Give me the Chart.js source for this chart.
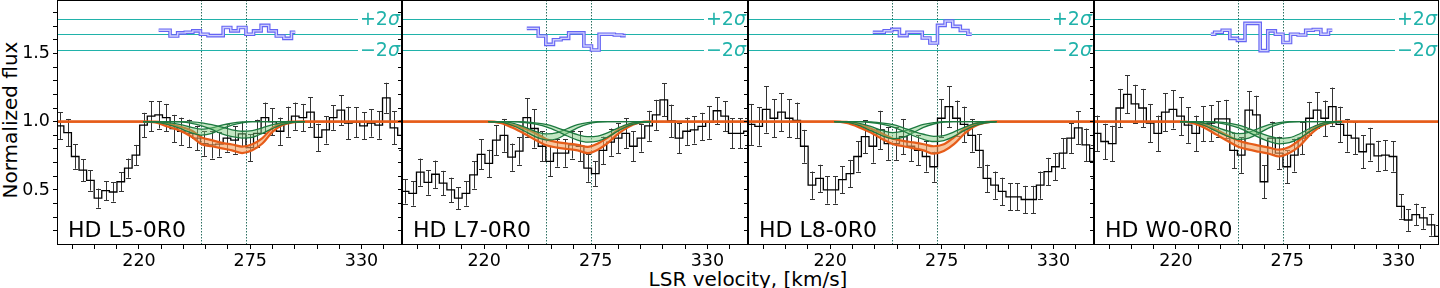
<!DOCTYPE html>
<html>
<head>
<meta charset="utf-8">
<script src="https://cdn.jsdelivr.net/npm/chart.js@4.4.1/dist/chart.umd.min.js"></script>
<style>
  body { margin: 0; width: 1440px; height: 288px; overflow: hidden; background: #fff; position: relative; font-family: "DejaVu Sans", sans-serif; }
  canvas { position: absolute; top: 0; }
  #ylab { position: absolute; left: 9.5px; top: 120px; transform: translate(-50%, -50%) rotate(-90deg); font-size: 20px; line-height: 20px; white-space: nowrap; }
  #xlab { position: absolute; left: 748px; top: 269px; transform: translateX(-50%); font-size: 20px; line-height: 20px; white-space: nowrap; }
</style>
</head>
<body>
<div id="ylab">Normalized flux</div>
<div id="xlab">LSR velocity, [km/s]</div>
<script>
// ---- data ----
const panelNames = ["HD L5-0R0", "HD L7-0R0", "HD L8-0R0", "HD W0-0R0"];

const xTicks = [187, 198, 209, 220, 231, 242, 253, 264, 275, 286, 297, 308, 319, 330, 341];
const xLabelTicks = [220, 275, 330];
const yTicks = [0.2, 0.3, 0.4, 0.5, 0.6, 0.7, 0.8, 0.9, 1.0, 1.1, 1.2, 1.3, 1.4, 1.5, 1.6, 1.7, 1.8];
const yLabelTicks = [0.5, 1.0, 1.5];
const sigmaLevels = [1.526, 1.639, 1.751];   // -2 sigma, centre, +2 sigma
const compVelocity = [250.5, 272.7];

// spectrum bins (km/s)
const velocity = [177.25, 181, 184.75, 188.5, 192.25, 196, 199.75, 203.5, 207.25, 211,
  214.75, 218.5, 222.25, 226, 229.75, 233.5, 237.25, 241, 244.75, 248.5,
  252.25, 256, 259.75, 263.5, 267.25, 271, 274.75, 278.5, 282.25, 286,
  289.75, 293.5, 297.25, 301, 304.75, 308.5, 312.25, 316, 319.75, 323.5,
  327.25, 331, 334.75, 338.5, 342.25, 346, 349.75];

const fluxL5 = [0.99, 0.97, 0.92, 0.745, 0.645, 0.57, 0.44, 0.495, 0.485, 0.56,
  0.66, 0.755, 0.975, 1.04, 1.05, 1.03, 0.95, 0.93, 0.915, 0.88,
  0.84, 0.83, 0.835, 0.88, 0.865, 0.91, 0.81, 0.915, 1.03, 1.0,
  0.93, 1.0, 1.04, 1.03, 1.07, 0.885, 0.94, 1.03, 1.085, 0.99,
  0.995, 0.97, 0.99, 0.975, 1.175, 0.955, 0.90];
const errL5 = [0.10, 0.10, 0.10, 0.09, 0.08, 0.075, 0.07, 0.07, 0.07, 0.07,
  0.07, 0.075, 0.09, 0.11, 0.10, 0.10, 0.10, 0.10, 0.10, 0.09,
  0.09, 0.10, 0.09, 0.10, 0.10, 0.09, 0.10, 0.10, 0.11, 0.10,
  0.10, 0.11, 0.10, 0.10, 0.11, 0.10, 0.10, 0.09, 0.11, 0.12,
  0.11, 0.10, 0.10, 0.10, 0.11, 0.12, 0.11];

const fluxL7 = [0.49, 0.49, 0.475, 0.63, 0.555, 0.615, 0.55, 0.50, 0.44, 0.475,
  0.61, 0.76, 0.695, 0.865, 0.90, 0.74, 0.785, 1.03, 0.95, 0.82,
  0.71, 0.77, 0.77, 0.83, 0.82, 0.66, 0.62, 0.79, 0.85, 0.88,
  0.915, 0.82, 0.88, 0.97, 1.05, 1.16, 1.005, 0.88, 0.93, 0.94,
  0.965, 0.995, 1.08, 1.04, 0.915, 0.915, 0.93];
const errL7 = [0.09, 0.09, 0.09, 0.10, 0.09, 0.10, 0.09, 0.09, 0.08, 0.09,
  0.10, 0.11, 0.10, 0.11, 0.12, 0.10, 0.10, 0.14, 0.14, 0.11,
  0.11, 0.10, 0.10, 0.10, 0.11, 0.10, 0.09, 0.10, 0.10, 0.11,
  0.11, 0.11, 0.10, 0.11, 0.11, 0.12, 0.12, 0.11, 0.10, 0.10,
  0.10, 0.12, 0.10, 0.11, 0.11, 0.11, 0.10];

const fluxL8 = [0.93, 0.98, 0.965, 1.09, 1.025, 1.07, 1.025, 1.01, 0.82, 0.535,
  0.585, 0.50, 0.50, 0.575, 0.62, 0.745, 0.89, 0.82, 0.94, 0.84,
  0.84, 0.89, 0.82, 0.79, 0.745, 0.67, 1.025, 1.11, 1.025, 0.98,
  0.90, 0.79, 0.585, 0.535, 0.49, 0.45, 0.45, 0.43, 0.43, 0.535,
  0.635, 0.67, 0.77, 0.88, 0.955, 0.83, 0.71];
const errL8 = [0.13, 0.15, 0.14, 0.17, 0.14, 0.14, 0.14, 0.13, 0.12, 0.10,
  0.10, 0.10, 0.10, 0.10, 0.10, 0.11, 0.12, 0.12, 0.14, 0.12,
  0.12, 0.13, 0.11, 0.11, 0.11, 0.11, 0.14, 0.15, 0.13, 0.13,
  0.12, 0.12, 0.10, 0.10, 0.10, 0.10, 0.10, 0.10, 0.10, 0.10,
  0.10, 0.10, 0.11, 0.11, 0.12, 0.12, 0.12];

const fluxW0 = [0.93, 0.915, 0.855, 0.84, 1.10, 1.20, 1.13, 1.10, 0.99, 0.915,
  1.07, 1.09, 1.04, 0.975, 0.915, 0.985, 0.99, 1.02, 1.02, 0.79,
  0.755, 1.085, 1.05, 0.56, 0.88, 0.77, 0.67, 0.755, 0.88, 1.025,
  1.085, 1.025, 1.11, 0.98, 0.90, 0.88, 0.78, 0.835, 0.75, 0.755,
  0.745, 0.38, 0.28, 0.32, 0.295, 0.245, 0.16];
const errW0 = [0.13, 0.13, 0.13, 0.13, 0.14, 0.14, 0.14, 0.14, 0.14, 0.13,
  0.14, 0.14, 0.14, 0.13, 0.13, 0.13, 0.13, 0.13, 0.14, 0.13,
  0.13, 0.14, 0.14, 0.12, 0.12, 0.12, 0.12, 0.12, 0.12, 0.12,
  0.13, 0.13, 0.14, 0.13, 0.12, 0.12, 0.12, 0.12, 0.11, 0.11,
  0.11, 0.09, 0.08, 0.08, 0.08, 0.08, 0.08];

// residuals, shifted to the 1.64 level
const residVelL5 = [229.75, 233.5, 237.25, 241, 244.75, 248.5, 252.25, 256, 259.75, 263.5,
  267.25, 271, 274.75, 278.5, 282.25, 286, 289.75, 293.5, 297.25];
const residL5 = [1.67, 1.67, 1.627, 1.65, 1.655, 1.665, 1.64, 1.63, 1.63, 1.69,
  1.665, 1.69, 1.64, 1.665, 1.705, 1.665, 1.627, 1.61, 1.655];
const residVelL7 = [241, 244.75, 248.5, 252.25, 256, 259.75, 263.5, 267.25, 271, 274.75,
  278.5, 282.25, 286, 289.75];
const residL7 = [1.683, 1.683, 1.627, 1.566, 1.60, 1.61, 1.65, 1.65, 1.554, 1.525,
  1.64, 1.64, 1.635, 1.63];
const residVelL8 = [241, 244.75, 248.5, 252.25, 256, 259.75, 263.5, 267.25, 271, 274.75,
  278.5, 282.25, 286, 289.75];
const residL8 = [1.654, 1.654, 1.666, 1.676, 1.63, 1.655, 1.655, 1.613, 1.576, 1.705,
  1.737, 1.698, 1.668, 1.64];
const residVelW0 = [237.25, 241, 244.75, 248.5, 252.25, 256, 259.75, 263.5, 267.25, 271,
  274.75, 278.5, 282.25, 286, 289.75, 293.5, 297.25];
const residW0 = [1.64, 1.655, 1.67, 1.61, 1.595, 1.72, 1.72, 1.52, 1.665, 1.64,
  1.58, 1.64, 1.635, 1.67, 1.675, 1.64, 1.67];

// fitted total profile (full panel) and components (fit window only)
const modelVel = [179.5, 222, 228, 234, 240, 246, 251, 256, 261, 266, 271, 276, 281, 286, 291, 296, 302, 350];
const compVel = [222, 228, 234, 240, 246, 251, 256, 261, 266, 271, 276, 281, 286, 291, 296, 302];

const fitHiL5 = [1, 1, 1, 0.985, 0.965, 0.935, 0.885, 0.865, 0.845, 0.833, 0.818, 0.835, 0.88, 0.955, 0.99, 1, 1, 1];
const fitLoL5 = [1, 1, 0.995, 0.965, 0.935, 0.89, 0.835, 0.82, 0.805, 0.79, 0.77, 0.79, 0.84, 0.925, 0.975, 0.995, 1, 1];
const compAHiL5 = [1, 1, 0.993, 0.98, 0.958, 0.945, 0.955, 0.975, 0.99, 0.998, 1, 1, 1, 1, 1, 1];
const compALoL5 = [1, 0.997, 0.98, 0.952, 0.918, 0.902, 0.915, 0.948, 0.975, 0.992, 1, 1, 1, 1, 1, 1];
const compBHiL5 = [1, 1, 1, 1, 0.998, 0.992, 0.978, 0.96, 0.94, 0.93, 0.935, 0.955, 0.978, 0.993, 1, 1];
const compBLoL5 = [1, 1, 1, 0.998, 0.988, 0.97, 0.943, 0.91, 0.89, 0.88, 0.885, 0.915, 0.95, 0.98, 0.995, 1];

const fitHiL7 = [1, 1, 0.995, 0.975, 0.95, 0.91, 0.87, 0.85, 0.84, 0.83, 0.815, 0.84, 0.885, 0.94, 0.978, 0.996, 1, 1];
const fitLoL7 = [1, 1, 0.99, 0.955, 0.91, 0.86, 0.825, 0.81, 0.80, 0.79, 0.77, 0.795, 0.845, 0.91, 0.96, 0.99, 1, 1];
const compAHiL7 = [1, 1, 0.99, 0.96, 0.925, 0.91, 0.92, 0.95, 0.978, 0.993, 1, 1, 1, 1, 1, 1];
const compALoL7 = [1, 0.997, 0.972, 0.93, 0.885, 0.865, 0.875, 0.915, 0.955, 0.983, 0.996, 1, 1, 1, 1, 1];
const compBHiL7 = [1, 1, 1, 0.998, 0.99, 0.978, 0.955, 0.93, 0.905, 0.89, 0.895, 0.92, 0.955, 0.983, 0.996, 1];
const compBLoL7 = [1, 1, 1, 0.994, 0.98, 0.96, 0.93, 0.895, 0.865, 0.85, 0.858, 0.888, 0.932, 0.97, 0.99, 1];

const fitHiL8 = [1, 1, 0.998, 0.98, 0.95, 0.91, 0.875, 0.86, 0.848, 0.835, 0.82, 0.835, 0.885, 0.945, 0.982, 0.997, 1, 1];
const fitLoL8 = [1, 1, 0.99, 0.96, 0.92, 0.87, 0.835, 0.82, 0.805, 0.79, 0.765, 0.785, 0.835, 0.91, 0.965, 0.99, 1, 1];
const compAHiL8 = [1, 1, 0.99, 0.965, 0.935, 0.92, 0.93, 0.955, 0.98, 0.993, 1, 1, 1, 1, 1, 1];
const compALoL8 = [1, 0.997, 0.973, 0.935, 0.895, 0.875, 0.885, 0.92, 0.958, 0.983, 0.996, 1, 1, 1, 1, 1];
const compBHiL8 = [1, 1, 1, 0.998, 0.99, 0.978, 0.955, 0.93, 0.908, 0.893, 0.898, 0.925, 0.958, 0.985, 0.996, 1];
const compBLoL8 = [1, 1, 1, 0.994, 0.98, 0.96, 0.93, 0.897, 0.87, 0.855, 0.862, 0.892, 0.935, 0.97, 0.99, 1];

const fitHiW0 = [1, 1, 0.995, 0.975, 0.94, 0.895, 0.86, 0.84, 0.825, 0.81, 0.795, 0.815, 0.865, 0.93, 0.978, 0.996, 1, 1];
const fitLoW0 = [1, 1, 0.99, 0.955, 0.905, 0.855, 0.815, 0.795, 0.78, 0.765, 0.745, 0.77, 0.82, 0.90, 0.96, 0.99, 1, 1];
const compAHiW0 = [1, 1, 0.99, 0.96, 0.93, 0.912, 0.922, 0.952, 0.978, 0.993, 1, 1, 1, 1, 1, 1];
const compALoW0 = [1, 0.997, 0.972, 0.93, 0.89, 0.87, 0.88, 0.915, 0.955, 0.983, 0.996, 1, 1, 1, 1, 1];
const compBHiW0 = [1, 1, 1, 0.998, 0.99, 0.975, 0.95, 0.92, 0.895, 0.878, 0.883, 0.91, 0.95, 0.982, 0.996, 1];
const compBLoW0 = [1, 1, 1, 0.993, 0.977, 0.955, 0.922, 0.885, 0.855, 0.838, 0.846, 0.878, 0.925, 0.968, 0.99, 1];

// ---- layout ----
const spineX = [57, 402, 748, 1094, 1439];
const AXIS_W = 57, AXIS_H = 43;
const X_MIN = 179.5, X_MAX = 350, Y_MIN = 0.097, Y_MAX = 1.891;
const FONT = '"DejaVu Sans", sans-serif';

const panels = [
  {name: panelNames[0], flux: fluxL5, err: errL5, rv: residVelL5, r: residL5, fh: fitHiL5, fl: fitLoL5, ah: compAHiL5, al: compALoL5, bh: compBHiL5, bl: compBLoL5},
  {name: panelNames[1], flux: fluxL7, err: errL7, rv: residVelL7, r: residL7, fh: fitHiL7, fl: fitLoL7, ah: compAHiL7, al: compALoL7, bh: compBHiL7, bl: compBLoL7},
  {name: panelNames[2], flux: fluxL8, err: errL8, rv: residVelL8, r: residL8, fh: fitHiL8, fl: fitLoL8, ah: compAHiL8, al: compALoL8, bh: compBHiL8, bl: compBLoL8},
  {name: panelNames[3], flux: fluxW0, err: errW0, rv: residVelW0, r: residW0, fh: fitHiW0, fl: fitLoW0, ah: compAHiW0, al: compALoW0, bh: compBHiW0, bl: compBLoW0}
];

const pts = (xs, ys) => xs.map((x, i) => ({x: x, y: ys[i]}));
const isLabelled = (v, list) => list.some(t => Math.abs(t - v) < 1e-6);

const ORANGE = "#e65c19", GREEN = "#1d7a40", TEAL = "#20b2aa";

const decor = {
  id: "decor",
  beforeDatasetsDraw(chart, args, opts) {
    const p = panels[opts.index];
    const {ctx, chartArea: a, scales: {x, y}} = chart;
    ctx.save();
    ctx.beginPath();
    ctx.rect(a.left, a.top, a.right - a.left, a.bottom - a.top);
    ctx.clip();
    ctx.lineWidth = 1;
    ctx.strokeStyle = TEAL;
    sigmaLevels.forEach(v => {
      const py = Math.round(y.getPixelForValue(v)) + 0.5;
      ctx.beginPath(); ctx.moveTo(a.left, py); ctx.lineTo(a.right, py); ctx.stroke();
    });
    ctx.strokeStyle = "#2b6f60";
    ctx.setLineDash([1.5, 1.5]);
    compVelocity.forEach(v => {
      const px = Math.round(x.getPixelForValue(v)) + 0.5;
      ctx.beginPath(); ctx.moveTo(px, a.top); ctx.lineTo(px, a.bottom); ctx.stroke();
    });
    ctx.setLineDash([]);
    ctx.strokeStyle = "#333";
    velocity.forEach((v, i) => {
      const px = Math.round(x.getPixelForValue(v)) + 0.5;
      const y1 = y.getPixelForValue(p.flux[i] + p.err[i]);
      const y2 = y.getPixelForValue(p.flux[i] - p.err[i]);
      ctx.beginPath();
      ctx.moveTo(px, y1); ctx.lineTo(px, y2);
      ctx.moveTo(px - 2.5, Math.round(y1) + 0.5); ctx.lineTo(px + 2.5, Math.round(y1) + 0.5);
      ctx.moveTo(px - 2.5, Math.round(y2) + 0.5); ctx.lineTo(px + 2.5, Math.round(y2) + 0.5);
      ctx.stroke();
    });
    ctx.restore();
  },
  afterDatasetsDraw(chart, args, opts) {
    const p = panels[opts.index];
    const {ctx, chartArea: a, scales: {y}} = chart;
    ctx.save();
    // sigma labels
    [[sigmaLevels[2], "+2"], [sigmaLevels[0], "\u22122"]].forEach(([v, txt]) => {
      const py = y.getPixelForValue(v);
      ctx.fillStyle = "#fff";
      ctx.fillRect(a.right - 44, py - 11, 43, 22);
      ctx.font = "19px " + FONT;
      const w1 = ctx.measureText(txt).width;
      ctx.font = "italic 19px " + FONT;
      const w2 = ctx.measureText("\u03c3").width;
      const x0 = a.right - 2 - w1 - w2;
      ctx.fillStyle = TEAL;
      ctx.textBaseline = "middle";
      ctx.textAlign = "left";
      ctx.font = "19px " + FONT;
      ctx.fillText(txt, x0, py + 1);
      ctx.font = "italic 19px " + FONT;
      ctx.fillText("\u03c3", x0 + w1, py + 1);
    });
    // panel name
    ctx.fillStyle = "#000";
    ctx.font = "22px " + FONT;
    ctx.textBaseline = "alphabetic";
    ctx.fillText(p.name, a.left + 11, a.bottom - 8.5);
    // frame
    ctx.strokeStyle = "#000";
    ctx.lineWidth = 1;
    ctx.strokeRect(a.left + 0.5, a.top + 0.5, a.right - a.left - 1, a.bottom - a.top - 1);
    ctx.restore();
  }
};

panels.forEach((p, i) => {
  const c = document.createElement("canvas");
  c.width = spineX[i + 1] - spineX[i] + AXIS_W;
  c.height = 288;
  c.style.left = (spineX[i] - AXIS_W) + "px";
  document.body.appendChild(c);

  const line = (data, color, width, order, extra) => Object.assign({
    data: data, borderColor: color, borderWidth: width, pointRadius: 0,
    fill: false, order: order, cubicInterpolationMode: "monotone"
  }, extra || {});
  const greenFill = "rgba(120,200,120,0.45)";

  new Chart(c, {
    type: "line",
    data: {
      datasets: [
        line(pts(velocity, p.flux), "#000", 1.3, 10, {stepped: "middle"}),
        line(pts(p.rv, p.r), "#6464f4", 3.6, 9, {stepped: "middle"}),
        line(pts(p.rv, p.r), "#cfcffc", 1.4, 8, {stepped: "middle"}),
        line(pts(modelVel, p.fh), ORANGE, 2.2, 7, {fill: "+1", backgroundColor: "rgba(243,160,95,0.6)"}),
        line(pts(modelVel, p.fl), ORANGE, 2.2, 6),
        line(pts(compVel, p.ah), GREEN, 1.3, 5, {fill: "+1", backgroundColor: greenFill}),
        line(pts(compVel, p.al), GREEN, 1.3, 4),
        line(pts(compVel, p.bh), GREEN, 1.3, 3, {fill: "+1", backgroundColor: greenFill}),
        line(pts(compVel, p.bl), GREEN, 1.3, 2)
      ]
    },
    options: {
      responsive: false,
      animation: false,
      events: [],
      layout: {padding: 0},
      plugins: {legend: {display: false}, tooltip: {enabled: false}, decor: {index: i}},
      scales: {
        x: {
          type: "linear", min: X_MIN, max: X_MAX,
          afterBuildTicks: s => { s.ticks = xTicks.map(v => ({value: v})); },
          afterFit: s => { s.height = AXIS_H; s.paddingLeft = 0; s.paddingRight = 0; },
          border: {display: false},
          grid: {drawOnChartArea: false, tickLength: 4, color: "#000"},
          ticks: {
            autoSkip: false, maxRotation: 0, padding: 2, color: "#000",
            font: {family: FONT, size: 17.5},
            callback: v => isLabelled(v, xLabelTicks) ? String(v) : ""
          }
        },
        y: {
          type: "linear", min: Y_MIN, max: Y_MAX,
          afterBuildTicks: s => { s.ticks = yTicks.map(v => ({value: v})); },
          afterFit: s => { s.width = AXIS_W; s.paddingTop = 0; s.paddingBottom = 0; },
          border: {display: false},
          grid: {drawOnChartArea: false, tickLength: 4, color: "#000"},
          ticks: {
            autoSkip: false, padding: 3, color: "#000",
            font: {family: FONT, size: 17.5},
            callback: v => (i === 0 && isLabelled(v, yLabelTicks)) ? v.toFixed(1) : ""
          }
        }
      }
    },
    plugins: [decor]
  });
});
</script>
</body>
</html>
